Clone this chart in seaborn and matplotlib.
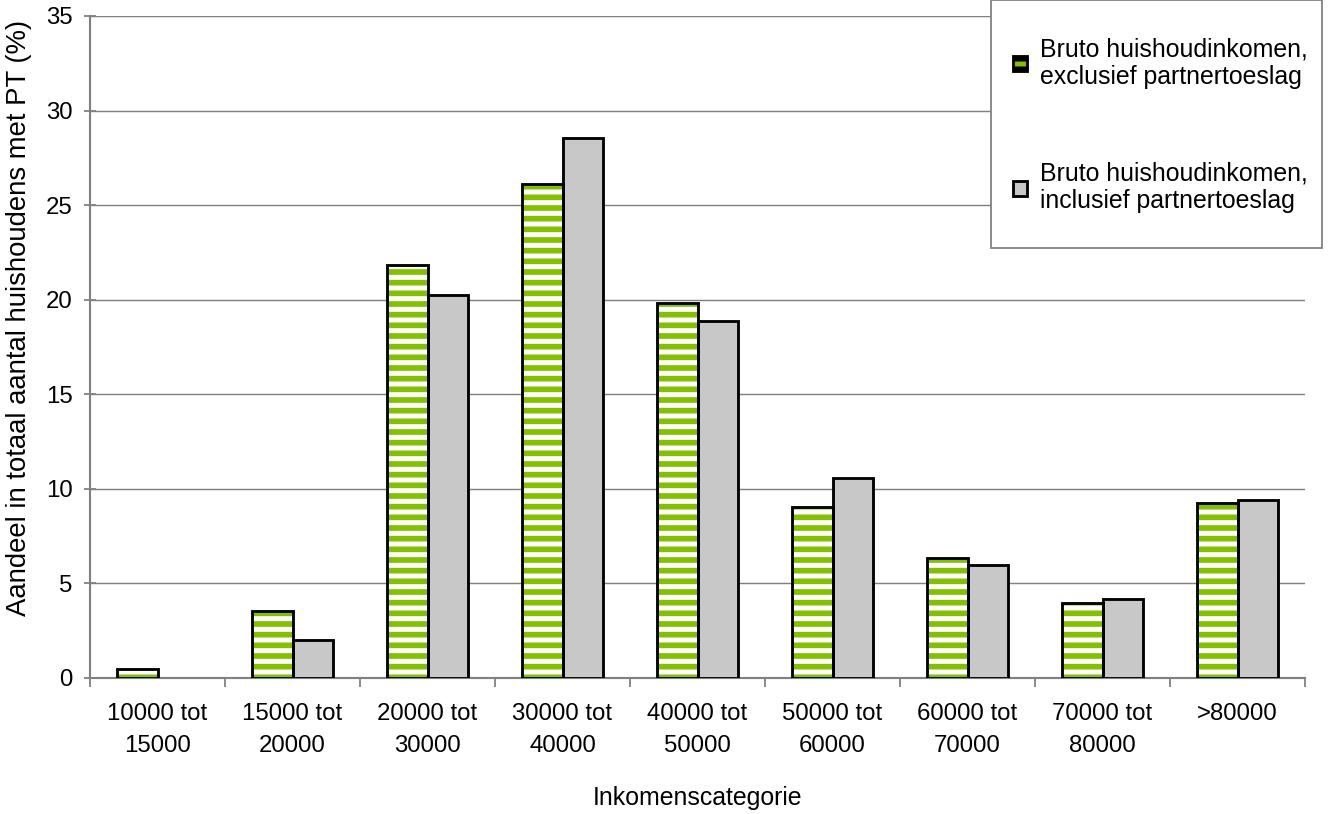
import numpy as np
import pandas as pd
import matplotlib
matplotlib.use("Agg")
import matplotlib.pyplot as plt
from matplotlib.patches import Rectangle
import seaborn as sns

categories = ["10000 tot\n15000", "15000 tot\n20000", "20000 tot\n30000", "30000 tot\n40000",
              "40000 tot\n50000", "50000 tot\n60000", "60000 tot\n70000", "70000 tot\n80000",
              ">80000"]
series_names = ["Bruto huishoudinkomen,\nexclusief partnertoeslag",
                "Bruto huishoudinkomen,\ninclusief partnertoeslag"]
excl_values = [0.5, 3.55, 21.85, 26.1, 19.8, 9.05, 6.35, 3.95, 9.25]
incl_values = [0.0, 2.0, 20.25, 28.55, 18.9, 10.6, 6.0, 4.2, 9.4]
y_ticks = [0, 5, 10, 15, 20, 25, 30, 35]

GREEN = "#84c000"
GREY = "#c8c8c8"

df = pd.DataFrame({
    "cat": categories * 2,
    "val": excl_values + incl_values,
    "serie": [series_names[0]] * len(categories) + [series_names[1]] * len(categories),
})

sns.set_style("white")
plt.rcParams["font.family"] = ["Liberation Sans", "DejaVu Sans"]
plt.rcParams["text.color"] = "black"
plt.rcParams["axes.labelcolor"] = "black"
plt.rcParams["xtick.labelcolor"] = "black"
plt.rcParams["ytick.labelcolor"] = "black"
plt.rcParams["hatch.color"] = GREEN
plt.rcParams["hatch.linewidth"] = 3.2

DPI = 128
W, H = 1329, 814
fig = plt.figure(figsize=(W / DPI, H / DPI), dpi=DPI)
ax = fig.add_axes([90 / W, 1 - 678 / H, (1305 - 90) / W, (678 - 16) / H])

sns.barplot(data=df, x="cat", y="val", hue="serie", order=categories, hue_order=series_names,
            palette={series_names[0]: "white", series_names[1]: GREY},
            edgecolor="black", linewidth=1.6, width=0.6, ax=ax, zorder=3)

for cont in ax.containers:
    for p in cont.patches:
        if p.get_height() <= 0:
            p.set_visible(False)

excl_container = ax.containers[0]
for p in excl_container.patches:
    p.set_hatch("--")
    if hasattr(p, "set_hatchcolor"):
        p.set_hatchcolor(GREEN)
    else:
        p.set_edgecolor(GREEN)
        p.set_linewidth(0)
        if p.get_height() > 0:
            ax.add_patch(Rectangle(p.get_xy(), p.get_width(), p.get_height(), fill=False,
                                   edgecolor="black", linewidth=1.6, zorder=4))

ax.set_ylim(0, 35)
ax.set_xlim(-0.5, len(categories) - 0.5)
ax.set_yticks(y_ticks)
ax.yaxis.grid(True, color="#808080", linewidth=0.8, zorder=0)
ax.set_axisbelow(True)

for s in ["top", "right"]:
    ax.spines[s].set_visible(False)
for s in ["left", "bottom"]:
    ax.spines[s].set_color("#808080")
    ax.spines[s].set_linewidth(1.2)

TICK_FS = 13.5
ax.tick_params(axis="y", which="major", length=7.3, width=1, color="#808080", direction="inout",
               labelsize=TICK_FS, pad=6, left=True, labelcolor="black")
ax.set_xticks(range(len(categories)))
ax.set_xticklabels(categories)
ax.tick_params(axis="x", which="major", length=0, labelsize=TICK_FS, pad=14, labelcolor="black")
ax.set_xticks(np.arange(-0.5, len(categories), 1.0), minor=True)
ax.tick_params(axis="x", which="minor", length=5, width=1, color="#808080", direction="out", bottom=True)

ax.set_xlabel("Inkomenscategorie", fontsize=14, labelpad=16.5, color="black")
ax.set_ylabel("Aandeel in totaal aantal huishoudens met PT (%)", fontsize=15.5, labelpad=8, color="black")
ax.yaxis.label.set_y(0.544)

handles, labels = ax.get_legend_handles_labels()
if ax.get_legend() is not None:
    ax.get_legend().remove()

# legend box (frame drawn separately so padding can differ per side)
fig.patches.append(Rectangle((991 / W, 1 - 248 / H), (1322 - 991) / W, 248 / H,
                             transform=fig.transFigure, facecolor="white",
                             edgecolor="#808080", linewidth=1.0, zorder=5))
leg = fig.legend(handles, labels, loc="upper left",
                 bbox_to_anchor=(1013 / W, 1 - 37 / H), frameon=False,
                 fontsize=14, labelspacing=2.92, borderpad=0.0, handlelength=0.55,
                 handleheight=0.55, handletextpad=0.55, borderaxespad=0.0, labelcolor="black")
leg.set_zorder(6)
h0 = leg.legend_handles[0]
h0.set_facecolor(GREEN)
h0.set_hatch("--")
if hasattr(h0, "set_hatchcolor"):
    h0.set_hatchcolor("white")

fig.canvas.draw()
for t in ax.xaxis.get_major_ticks():
    t.label1.set_linespacing(1.6)

fig.savefig("out.png", dpi=DPI)
